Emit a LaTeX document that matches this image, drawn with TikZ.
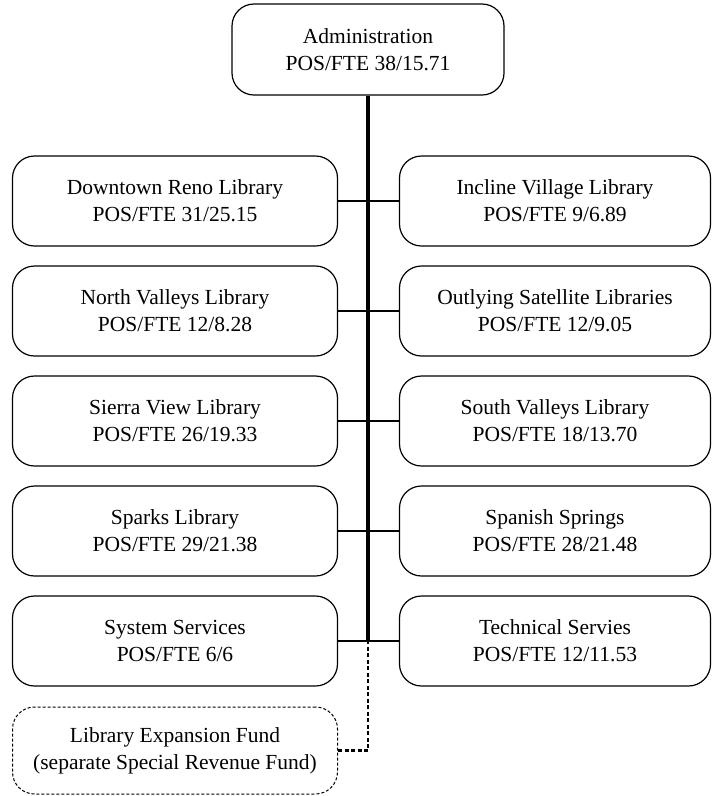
\documentclass[tikz,border=0pt]{standalone}
\usepackage{fontspec}
\setmainfont{Liberation Serif}
\begin{document}
\begin{tikzpicture}[x=1pt,y=-1pt,
  unitbox/.style={draw=black, line width=1.2pt, rounded corners=22pt,
    align=center, inner sep=0pt, minimum height=90pt,
    font=\fontsize{21.5}{27}\selectfont},
  leftbox/.style={unitbox, minimum width=325pt},
  rightbox/.style={unitbox, minimum width=311pt},
  trunk/.style={line width=3.2pt},
  branch/.style={line width=2.8pt},
  fundlink/.style={line width=2.8pt, dash pattern=on 4pt off 2.5pt},
  fundbox/.style={leftbox, minimum height=87pt, line width=1pt, dash pattern=on 3pt off 2pt}]
\useasboundingbox (0,0) rectangle (712,796);

\node[unitbox, minimum width=272pt, minimum height=91pt] (admin) at (368,49.5)
  {Administration\\POS/FTE 38/15.71};

\node[leftbox]  (reno)   at (175,201) {Downtown Reno Library\\POS/FTE 31/25.15};
\node[rightbox] (incl)   at (555,201) {Incline Village Library\\POS/FTE 9/6.89};
\node[leftbox]  (north)  at (175,311) {North Valleys Library\\POS/FTE 12/8.28};
\node[rightbox] (sat)    at (555,311) {Outlying Satellite Libraries\\POS/FTE 12/9.05};
\node[leftbox]  (sierra) at (175,421) {Sierra View Library\\POS/FTE 26/19.33};
\node[rightbox] (south)  at (555,421) {South Valleys Library\\POS/FTE 18/13.70};
\node[leftbox]  (sparks) at (175,531) {Sparks Library\\POS/FTE 29/21.38};
\node[rightbox] (spring) at (555,531) {Spanish Springs\\POS/FTE 28/21.48};
\node[leftbox]  (sys)    at (175,641) {System Services\\POS/FTE 6/6};
\node[rightbox] (tech)   at (555,641) {Technical Servies\\POS/FTE 12/11.53};
\node[fundbox]  (exp)    at (175,750.5) {Library Expansion Fund\\(separate Special Revenue Fund)};

% vertical trunk from the administration box
\coordinate (base) at (admin.south |- sys.east);
\draw[trunk] (admin.south) -- (base);

% horizontal branches across the trunk
\foreach \l/\r in {reno/incl, north/sat, sierra/south, sparks/spring, sys/tech}
  \draw[branch] (\l.east) -- (\r.west);

% dotted link of the separate fund
\draw[fundlink] (exp.east) -| (base);
\end{tikzpicture}
\end{document}
